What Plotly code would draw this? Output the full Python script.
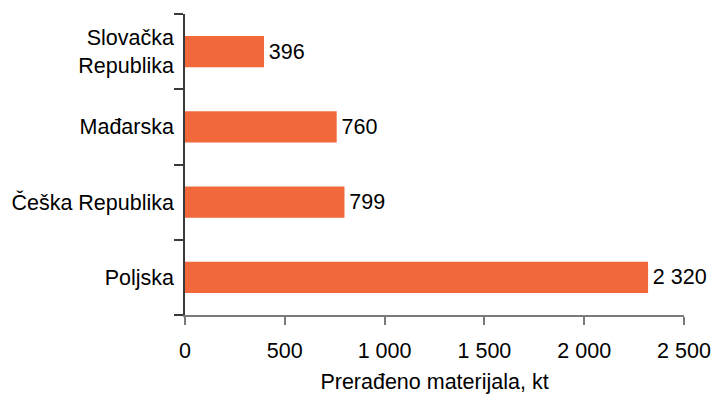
import plotly.graph_objects as go

# Processed material by country (kt)
countries = ["Poljska", "Češka Republika", "Mađarska", "Slovačka<br>Republika"]
values = [2320, 799, 760, 396]
x_ticks = [0, 500, 1000, 1500, 2000, 2500]

def fmt(v):
    return f"{v:,}".replace(",", " ")

bar_color = "#F1693B"
font_family = "Liberation Sans, Arial, sans-serif"
fsize = 21.5

fig = go.Figure(
    go.Bar(
        x=values,
        y=countries,
        orientation="h",
        marker=dict(color=bar_color, line=dict(width=0)),
        text=["\u200a" + fmt(v) for v in values],
        textposition="outside",
        textfont=dict(size=fsize, color="black", family=font_family),
        cliponaxis=False,
    )
)

fig.update_layout(
    width=713,
    height=394,
    margin=dict(l=185, r=29, t=14, b=79),
    paper_bgcolor="white",
    plot_bgcolor="white",
    bargap=0.587,
    showlegend=False,
    font=dict(family=font_family, size=fsize, color="black"),
)

fig.update_xaxes(
    range=[0, 2500],
    tickvals=x_ticks,
    ticktext=[fmt(v) for v in x_ticks],
    showgrid=False,
    zeroline=False,
    showline=True,
    linecolor="#7a7a7a",
    linewidth=1.5,
    ticks="outside",
    ticklen=8,
    tickcolor="#7a7a7a",
    tickwidth=1.5,
    ticklabelstandoff=7,
    automargin=False,
    title=dict(text="Prerađeno materijala, kt", standoff=19, font=dict(size=fsize)),
)

fig.update_yaxes(
    categoryorder="array",
    categoryarray=countries,
    showgrid=False,
    zeroline=False,
    showline=True,
    linecolor="#3a3a3a",
    linewidth=1.5,
    ticks="outside",
    tickson="boundaries",
    ticklen=9,
    tickcolor="#3a3a3a",
    tickwidth=1.5,
    ticklabelstandoff=5,
    automargin=False,
)

fig.write_html("out.html")
